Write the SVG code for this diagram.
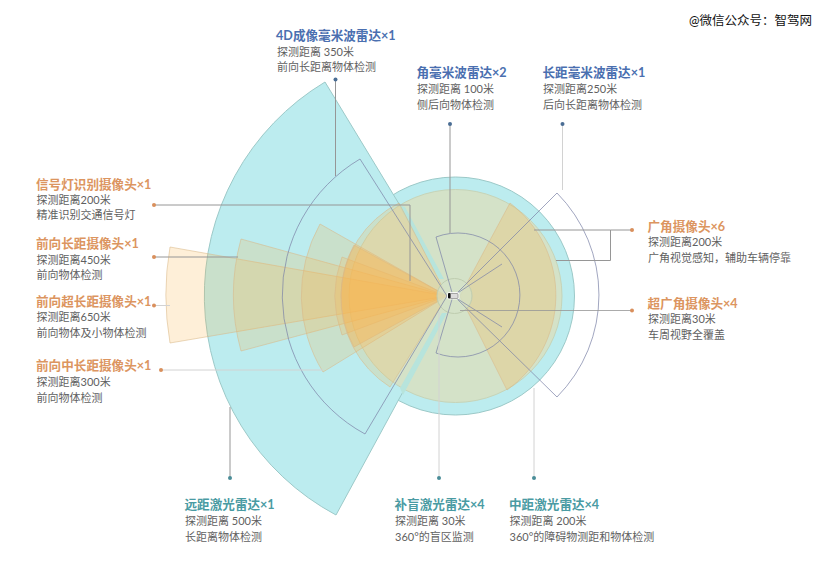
<svg xmlns="http://www.w3.org/2000/svg" width="832" height="574" viewBox="0 0 832 574">
<style>
text{font-family:"Lato","Noto Sans CJK SC","Noto Sans",sans-serif}
.t{font-size:12.6px;font-weight:700}
.b{font-size:11px;fill:#5f5f5f}
.o{fill:#dc9560}.l{fill:#4a6fb0}.g{fill:#4a9ba3}
.cy{fill:#bcecef;stroke:#9cc9c8;stroke-width:1}
.gr{fill:#d4e2c8;stroke:#c6d4b8;stroke-width:1}
.or{fill:#f9b44e;fill-opacity:.22;stroke:#d8b888;stroke-opacity:.55;stroke-width:1}
.st{fill:#b7e4dc}
.ra{fill:none;stroke:#7d84a8;stroke-width:1;stroke-opacity:.72}
.c{fill:none;stroke:#969696;stroke-width:1}
.cl{fill:none;stroke:#d2d2d2;stroke-width:1}
.do{fill:#d98f5c}.db{fill:#4a6d94}.dg{fill:#4a8d98}
</style>
<rect width="832" height="574" fill="#fff"/>
<g id="coverage">
<circle cx="455.500" cy="296" r="119" class="cy"/>
<path class="cy" d="M455 296L325 82A249 249 0 0 0 336 515Z"/>
<circle cx="455.500" cy="296" r="106.500" class="gr"/>
<path class="st" d="M399 205L405 207L444 279L439 279Z"/>
<path class="st" d="M400 388L403 395L447 313L442 313Z"/>
<path class="or" d="M447 296L170 247A281 281 0 0 0 170 343Z"/>
<path class="or" d="M447 296L241 239A212 212 0 0 0 241 351Z"/>
<path class="or" d="M447 296L320 224A146 146 0 0 0 323 372Z"/>
<path class="or" d="M447 296L342 257A112 112 0 0 0 342 335Z"/>
<path class="or" style="fill-opacity:.34" d="M447 296L354 245A107 107 0 0 0 354 347Z"/>
<path class="or" d="M447 296L399 203A106 106 0 0 0 390 387Z"/>
<path class="or" style="fill-opacity:.26" d="M460 296L510 203A116 116 0 0 1 507 390Z"/>
<circle cx="454.500" cy="296" r="17.500" fill="#d4e2c8" fill-opacity=".7" stroke="#bfcdb0"/>
<path class="ra" d="M447 296L360 159A158 158 0 0 0 365 434Z"/>
<path class="ra" d="M454 296L557 193A145 145 0 0 1 557 397Z"/>
<path class="ra" d="M453 296L436 237A62 62 0 1 1 436 353Z"/>
<path class="ra" d="M453 296L502 264M453 296L502 327"/>
</g>
<g id="connectors">
<path class="c" d="M335.500 80V176M450 124V233M154 205H410V281M154 257H238M230 478V407M534 230H610.500V260.500H556M610.500 230H632"/>
<path class="cl" d="M562.500 124V190M154 305.500H170M161 370H323M439 478V312M534 478V388"/>
<path class="c" stroke-opacity=".8" d="M460 310.500H632"/>
<circle cx="335.500" cy="79.500" r="2" class="db"/><circle cx="450" cy="124" r="2" class="db"/><circle cx="562.500" cy="124" r="2" class="db"/>
<circle cx="154" cy="205" r="2" class="do"/><circle cx="154" cy="257" r="2" class="do"/><circle cx="154" cy="305.500" r="2" class="do"/><circle cx="161" cy="370" r="2" class="do"/>
<circle cx="632" cy="230" r="2" class="do"/><circle cx="632" cy="310.500" r="2" class="do"/>
<circle cx="230" cy="478" r="2" class="dg"/><circle cx="439" cy="478" r="2" class="dg"/><circle cx="534" cy="478" r="2" class="dg"/>
</g>
<g id="car"><rect x="447" y="292" width="12.500" height="7.500" rx="2" fill="#fff" fill-opacity=".8"/><rect x="450" y="293.500" width="8" height="5" rx="1" fill="#dcdcdc" stroke="#777" stroke-width=".6"/><rect x="448" y="293" width="2.500" height="5.500" rx="1" fill="#111"/></g>
<g id="n1"><text x="276" y="40" class="t l">4D成像毫米波雷达×1</text><text x="277" y="55.500" class="b">探测距离 350米</text><text x="277" y="71" class="b">前向长距离物体检测</text></g>
<g id="n2"><text x="416.500" y="77" class="t l">角毫米波雷达×2</text><text x="417" y="93" class="b">探测距离 100米</text><text x="417" y="109" class="b">侧后向物体检测</text></g>
<g id="n3"><text x="542.500" y="77" class="t l">长距毫米波雷达×1</text><text x="543" y="93" class="b">探测距离250米</text><text x="543" y="109" class="b">后向长距离物体检测</text></g>
<g id="n4"><text x="36" y="188.500" class="t o">信号灯识别摄像头×1</text><text x="36.500" y="203.500" class="b">探测距离200米</text><text x="36.500" y="218.500" class="b">精准识别交通信号灯</text></g>
<g id="n5"><text x="36" y="247.500" class="t o">前向长距摄像头×1</text><text x="36.500" y="263.500" class="b">探测距离450米</text><text x="36.500" y="279" class="b">前向物体检测</text></g>
<g id="n6"><text x="36" y="305.500" class="t o">前向超长距摄像头×1</text><text x="36.500" y="321" class="b">探测距离650米</text><text x="36.500" y="337" class="b">前向物体及小物体检测</text></g>
<g id="n7"><text x="36" y="370" class="t o">前向中长距摄像头×1</text><text x="36.500" y="386" class="b">探测距离300米</text><text x="36.500" y="401.500" class="b">前向物体检测</text></g>
<g id="n8"><text x="184.500" y="508.500" class="t g">远距激光雷达×1</text><text x="185" y="525" class="b">探测距离 500米</text><text x="185" y="541" class="b">长距离物体检测</text></g>
<g id="n9"><text x="394.500" y="508.500" class="t g">补盲激光雷达×4</text><text x="395" y="525" class="b">探测距离 30米</text><text x="395" y="541" class="b">360°的盲区监测</text></g>
<g id="n10"><text x="509" y="508.500" class="t g">中距激光雷达×4</text><text x="509.500" y="525" class="b">探测距离 200米</text><text x="509.500" y="541" class="b">360°的障碍物测距和物体检测</text></g>
<g id="n11"><text x="647.500" y="231" class="t o">广角摄像头×6</text><text x="648" y="246" class="b">探测距离200米</text><text x="648" y="262" class="b">广角视觉感知，辅助车辆停靠</text></g>
<g id="n12"><text x="647.500" y="307.500" class="t o">超广角摄像头×4</text><text x="648" y="323" class="b">探测距离30米</text><text x="648" y="338.500" class="b">车周视野全覆盖</text></g>
<text x="689" y="25" font-size="12.500" fill="#111">@微信公众号：智驾网</text>
</svg>
